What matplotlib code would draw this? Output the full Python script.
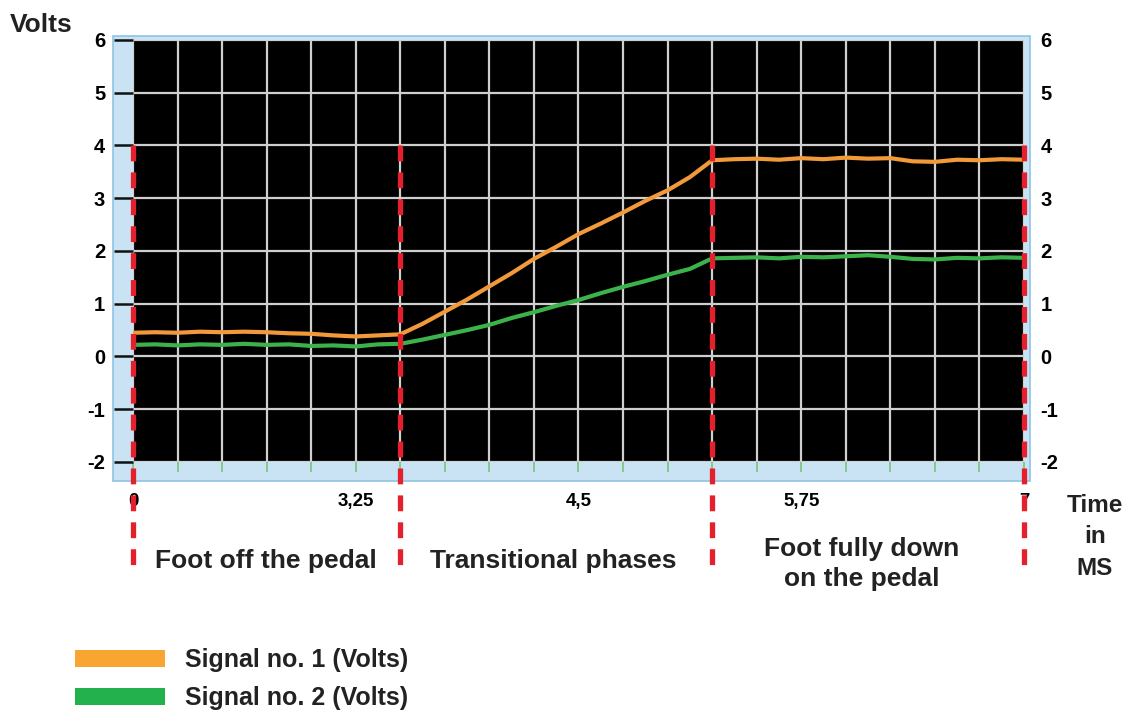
import matplotlib.pyplot as plt
import numpy as np
from matplotlib.patches import Rectangle, Patch

# sample positions in grid divisions (20 divisions across the screen)
grid_x = np.arange(0, 20.5, 0.5)

signal_1 = [0.45, 0.46, 0.45, 0.47, 0.46, 0.47, 0.46, 0.44, 0.43, 0.40, 0.38, 0.40, 0.42,
            0.62, 0.85, 1.08, 1.33, 1.58, 1.85, 2.08, 2.32, 2.52, 2.73, 2.95, 3.15, 3.40, 3.72,
            3.74, 3.75, 3.73, 3.76, 3.74, 3.77, 3.75, 3.76, 3.70, 3.69, 3.73, 3.72, 3.74, 3.73]
signal_2 = [0.22, 0.23, 0.21, 0.23, 0.22, 0.24, 0.22, 0.23, 0.20, 0.21, 0.19, 0.23, 0.24,
            0.32, 0.41, 0.50, 0.60, 0.73, 0.84, 0.96, 1.07, 1.20, 1.32, 1.43, 1.55, 1.66, 1.86,
            1.87, 1.88, 1.86, 1.89, 1.88, 1.90, 1.92, 1.89, 1.85, 1.84, 1.87, 1.86, 1.88, 1.87]

time_ticks = [0, 5, 10, 15, 20]
time_labels = ['0', '3,25', '4,5', '5,75', '7']
phase_bounds = [0, 6, 13, 20]
phase_names = ['Foot off the pedal', 'Transitional phases', 'Foot fully down\non the pedal']
series_names = ['Signal no. 1 (Volts)', 'Signal no. 2 (Volts)']

plt.rcParams['font.family'] = ['Liberation Sans', 'DejaVu Sans']
plt.rcParams['font.weight'] = 'bold'

fig = plt.figure(figsize=(11.28, 7.10), dpi=100)
ax = fig.add_axes([0.1179, 0.3493, 0.7899, 0.5944])
ax.set_facecolor('black')

# light blue frame behind the screen
frame = Rectangle((-0.0224, -0.045), 1.029, 1.0545, transform=ax.transAxes,
                  facecolor='#c9e3f4', edgecolor='#8fc3e3', lw=1.2, zorder=-1)
fig.add_artist(frame)

ax.plot(grid_x, signal_1, color='#f29a3a', lw=3, zorder=3)
ax.plot(grid_x, signal_2, color='#3cb34a', lw=3, zorder=3)

for b in phase_bounds:
    ax.plot([b, b], [4, -4], color='#e3202b', lw=3.8, dashes=(3, 2.1),
            clip_on=False, zorder=5)

ax.set_xlim(0, 20)
ax.set_ylim(-2, 6)
ax.set_xticks(range(21))
ax.set_xticklabels([time_labels[time_ticks.index(i)] if i in time_ticks else '' for i in range(21)],
                   fontsize=13.5, fontweight='bold')
ax.set_yticks(range(-2, 7))
ax.set_yticklabels([str(v) for v in range(-2, 7)], fontsize=14.5, fontweight='bold')
ax.grid(True, color='#cfcfcf', lw=1.6)
ax.set_axisbelow(False)
for s in ax.spines.values():
    s.set_visible(False)

ax.tick_params(axis='x', length=7, width=1.2, color='#7cc27c', pad=15)
ax.tick_params(axis='y', length=14, width=1.8, color='#111111', pad=6)

ax2 = ax.twinx()
ax2.set_ylim(-2, 6)
ax2.set_yticks(range(-2, 7))
ax2.set_yticklabels([str(v) for v in range(-2, 7)], fontsize=14.5, fontweight='bold')
ax2.tick_params(axis='y', length=0, pad=12)
for s in ax2.spines.values():
    s.set_visible(False)

txt = '#222222'
fig.text(0.0089, 0.9648, 'Volts', fontsize=19, fontweight='bold', va='center', ha='left', color=txt)
fig.text(0.2358, 0.2099, phase_names[0], fontsize=19, fontweight='bold', ha='center', va='center',
         color=txt)
fig.text(0.4902, 0.2099, phase_names[1], fontsize=19, fontweight='bold', ha='center', va='center',
         color=txt)
fig.text(0.7642, 0.2055, phase_names[2], fontsize=19, fontweight='bold', ha='center', va='center',
         linespacing=1.35, color=txt)
fig.text(0.9707, 0.2437, 'Time\nin\nMS', fontsize=17.5, fontweight='bold', ha='center', va='center',
         linespacing=1.45, color=txt)

handles = [Patch(facecolor='#f8a532', edgecolor='none'), Patch(facecolor='#22b14c', edgecolor='none')]
fig.legend(handles, series_names, loc='upper left', bbox_to_anchor=(75 / 1128, 1 - 648 / 710),
           frameon=False, borderpad=0, borderaxespad=0, handlelength=3.6, handleheight=0.65,
           handletextpad=0.8, labelspacing=0.58, prop={'size': 18, 'weight': 'bold'},
           labelcolor=txt)

fig.savefig('out.png', dpi=100)
